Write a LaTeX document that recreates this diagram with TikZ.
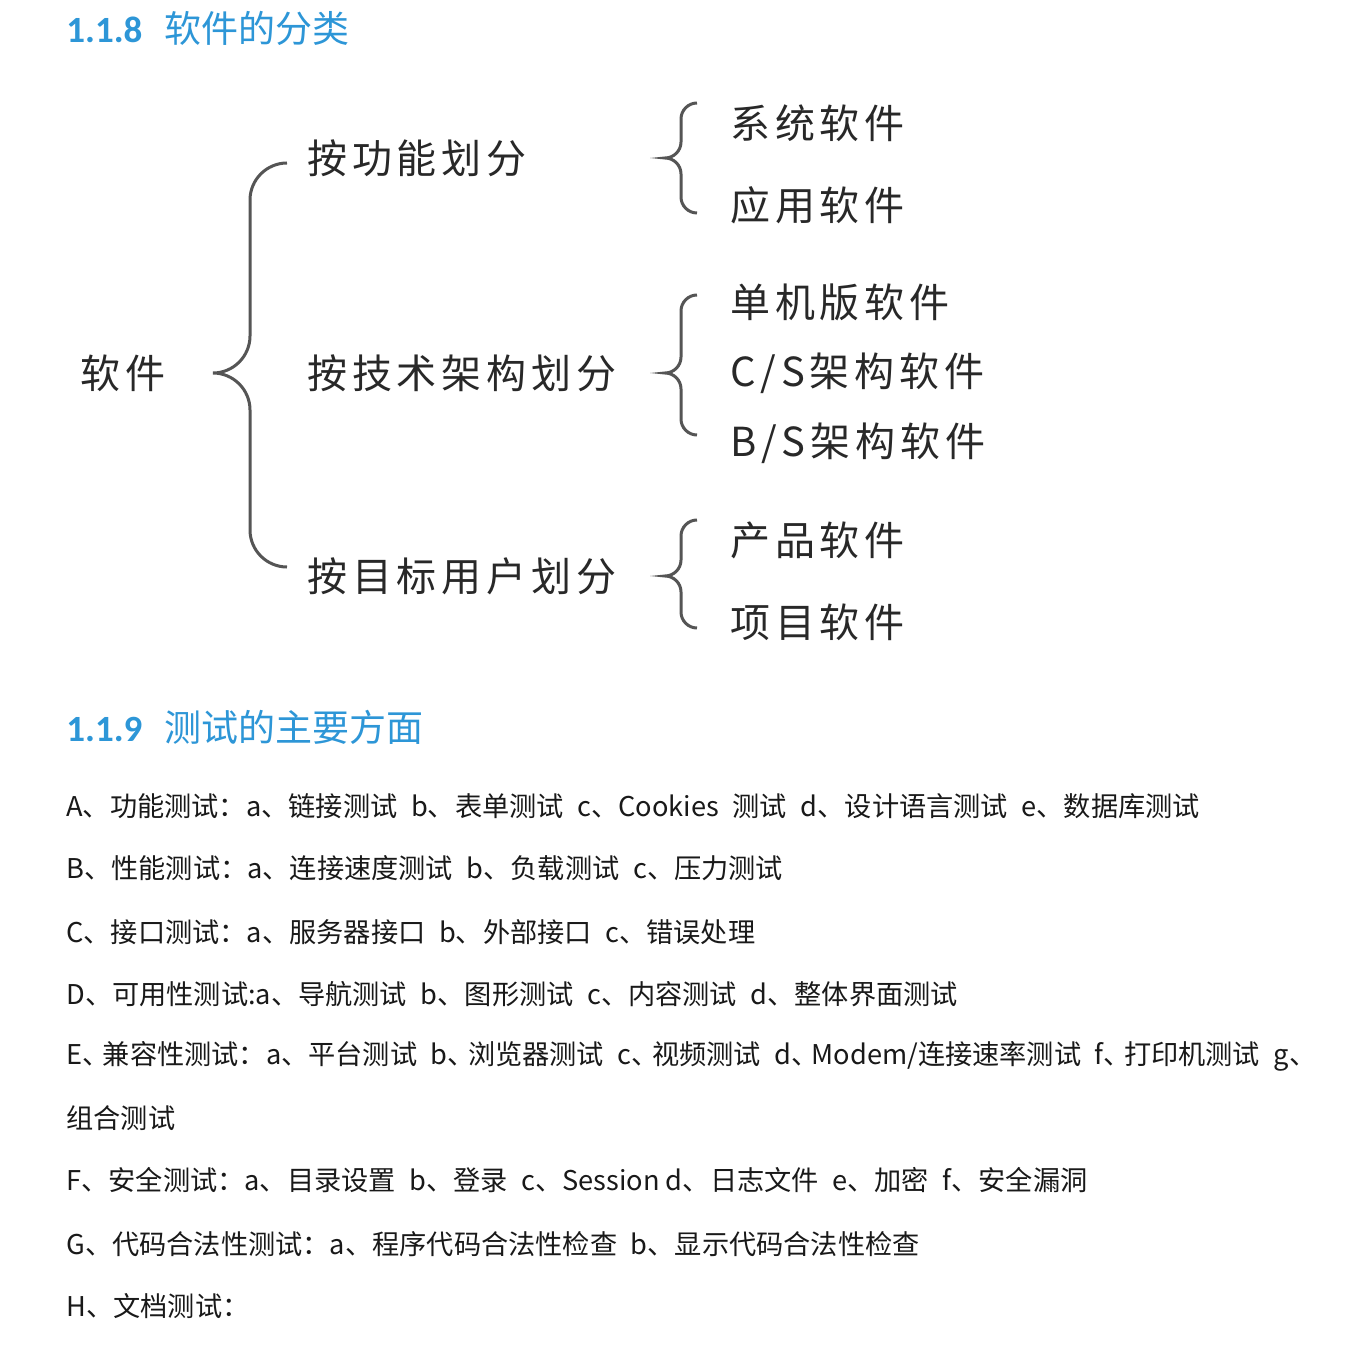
\documentclass[tikz,border=0pt]{standalone}
\usepackage{fontspec}
\newfontfamily\cjk{Noto Sans CJK SC}
\newfontfamily\cjkwide[LetterSpace=12]{Noto Sans CJK SC}
\newfontfamily\headnum{Carlito}
\usetikzlibrary{calc,positioning}
\definecolor{headblue}{RGB}{45,150,215}
\definecolor{brcgray}{RGB}{85,85,85}
\definecolor{txtgray}{RGB}{40,40,40}
\tikzset{
  brc/.style={draw=brcgray,line width=1.5pt},
  tree/.style={anchor=west,inner sep=0pt,text=txtgray,font=\cjkwide\fontsize{20pt}{24pt}\selectfont},
  head/.style={anchor=west,inner sep=0pt,text=headblue,font=\cjk\fontsize{18.5pt}{22pt}\selectfont},
  item/.style={anchor=west,inner sep=0pt,text=black!90,font=\cjk\fontsize{13.6pt}{17pt}\selectfont}
}
\newcommand{\gap}{\hspace{0.5em}}
\newcommand{\dun}{、\kern-0.25em}
\newcommand{\secnum}[1]{{\headnum\bfseries #1}\hspace{0.6em}}
% brace: top end, tip, bottom end, half width
\newcommand{\treebrace}[4]{%
  \draw[brc] (#1) .. controls +(-0.55*#4,0) and +(0,-0.55*#4) .. ($(#1)+(-#4,#4)$)
    -- ($(#2)+(#4,-#4)$) .. controls +(0,0.55*#4) and +(0.55*#4,0) .. (#2)
    .. controls +(0.55*#4,0) and +(0,-0.55*#4) .. ($(#2)+(#4,#4)$)
    -- ($(#3)+(-#4,-#4)$) .. controls +(0,0.55*#4) and +(-0.55*#4,0) .. (#3);}

\begin{document}
\begin{tikzpicture}[x=0.5pt,y=-0.5pt]
\fill[white] (0,0) rectangle (1364,1358);
\useasboundingbox (0,0) rectangle (1364,1358);

\node[head] (h1) at (66,28) {\secnum{1.1.8}软件的分类};

% tree
\node[tree] (root) at (80,373) {软件};
\node[tree] (func) at (307,158) {按功能划分};
\node[tree] (tech) at (307,373) {按技术架构划分};
\node[tree] (user) at (307,576) {按目标用户划分};
\node[tree] (sys) at (730,123) {系统软件};
\node[tree] (app) at (730,205) {应用软件};
\node[tree] (single) at (730,302) {单机版软件};
\node[tree] (cs) at (730,373) {C/S架构软件};
\node[tree] (bs) at (730,443) {B/S架构软件};
\node[tree] (prod) at (730,540) {产品软件};
\node[tree] (proj) at (730,622) {项目软件};

\coordinate (bT) at ($(func.west)+(-20,5)$);
\coordinate (bP) at ($(tech.west)+(-94,0)$);
\coordinate (bB) at ($(user.west)+(-20,-9)$);
\treebrace{bT}{bP}{bB}{37}

\coordinate (fT) at ($(sys.west)+(-33,-20)$);
\coordinate (fP) at ($(func.west -| sys.west)+(-65,0)$);
\coordinate (fB) at ($(app.west)+(-33,8)$);
\treebrace{fT}{fP}{fB}{16}

\coordinate (tT) at ($(single.west)+(-33,-7)$);
\coordinate (tP) at ($(tech.west -| cs.west)+(-65,0)$);
\coordinate (tB) at ($(bs.west)+(-33,-8)$);
\treebrace{tT}{tP}{tB}{16}

\coordinate (uT) at ($(prod.west)+(-33,-20)$);
\coordinate (uP) at ($(user.west -| prod.west)+(-65,0)$);
\coordinate (uB) at ($(proj.west)+(-33,6)$);
\treebrace{uT}{uP}{uB}{16}

% list
\node[head] (h2) at (66,727) {\secnum{1.1.9}测试的主要方面};
\node[item] (lA) at (66,806) {A、功能测试：a、链接测试\gap b、表单测试\gap c、Cookies\gap 测试\gap d、设计语言测试\gap e、数据库测试};
\node[item] (lB) at (66,868) {B、性能测试：a、连接速度测试\gap b、负载测试\gap c、压力测试};
\node[item] (lC) at (66,932) {C、接口测试：a、服务器接口\gap b、外部接口\gap c、错误处理};
\node[item] (lD) at (66,994) {D、可用性测试:a、导航测试\gap b、图形测试\gap c、内容测试\gap d、整体界面测试};
\node[item] (lE) at (66,1056) {E\dun 兼容性测试：a、平台测试\gap b\dun 浏览器测试\gap c\dun 视频测试\gap d\dun Modem/连接速率测试\gap f\dun 打印机测试\gap g、};
\node[item] (lE2) at (66,1118) {组合测试};
\node[item] (lF) at (66,1180) {F、安全测试：a、目录设置\gap b、登录\gap c、Session d、日志文件\gap e、加密\gap f、安全漏洞};
\node[item] (lG) at (66,1244) {G、代码合法性测试：a、程序代码合法性检查\gap b、显示代码合法性检查};
\node[item] (lH) at (66,1306) {H、文档测试：};
\end{tikzpicture}
\end{document}
